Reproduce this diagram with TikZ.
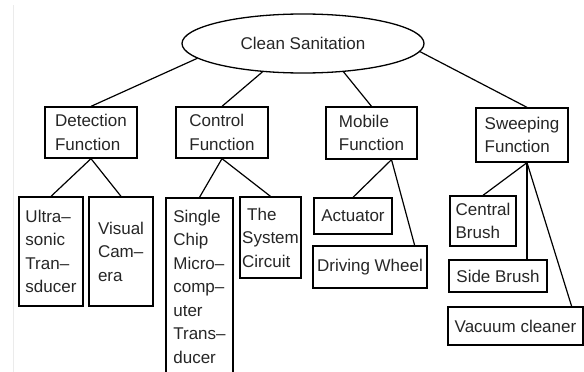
\documentclass[tikz,border=0pt]{standalone}
\usepackage{fontspec}
\setmainfont{Liberation Sans}
\usetikzlibrary{shapes.geometric}
\usetikzlibrary{calc}

\begin{document}
\begin{tikzpicture}[x=1pt, y=-1pt,
        box/.style={draw, rectangle, line width=1.3pt, align=left, inner sep=2pt,
            text=black!85, font=\fontsize{17}{23.5}\selectfont},
        link/.style={line width=1.2pt}]
            \clip (0,0) rectangle (584,372);
            \fill[white] (0,0) rectangle (584,372);
            
            % page edge
            \draw[black!8, line width=1pt] (13,5) -- (13,372);
            
            % Top
            \node[ellipse, draw, line width=1.3pt, minimum width=242, minimum height=59,
                inner sep=0pt, text=black!85, font=\fontsize{17}{23.5}\selectfont]
                (root) at (303,43.5) {Clean Sanitation};
            
            % Functions
            \node[box, minimum width=92, minimum height=51] (det) at (91,132.5) {Detection\\Function};
            \node[box, minimum width=92, minimum height=51] (ctl) at (222,132.5) {Control\\Function};
            \node[box, minimum width=91, minimum height=52] (mob) at (371.5,133) {Mobile\\Function};
            \node[box, minimum width=92, minimum height=54] (swp) at (522,135) {Sweeping\\Function};
            
            \draw[link] (root.188) -- (det.north);
            \draw[link] (root.215) -- (ctl.north);
            \draw[link] (root.325) -- (mob.north);
            \draw[link] (root.356) -- ([xshift=5]swp.north);
            
            % Detection parts
            \node[box, minimum width=64, minimum height=109] (ult) at (51,251.5) {Ultra--\\sonic\\Tran--\\sducer};
            \node[box, minimum width=64, minimum height=109] (vis) at (121,251.5) {Visual\\Cam--\\era};
            \draw[link] (det.south) -- (ult.north);
            \draw[link] (det.south) -- (vis.north);
            
            % Control parts
            \node[box, minimum width=67, minimum height=177] (chip) at (199.5,286.5)
                {Single\\Chip\\Micro--\\comp--\\uter\\Trans--\\ducer};
            \node[box, minimum width=61, minimum height=81] (sys) at (270.5,237.5)
                {\hspace*{5pt}The\\System\\Circuit};
            \draw[link] (ctl.south) -- (chip.north);
            \draw[link] (ctl.south) -- (sys.north);
            
            % Mobile parts
            \node[box, minimum width=78, minimum height=36] (act) at (353,216) {Actuator};
            \node[box, minimum width=114, minimum height=42] (whl) at (370,267) {Driving Wheel};
            \coordinate (mobfoot) at ([xshift=20]mob.south);
            \draw[link] (mobfoot) -- (act.north);
            \draw[link] (mobfoot) -- ([xshift=-13]whl.north east);
            
            % Sweeping parts
            \node[box, minimum width=66, minimum height=50] (cen) at (483,221) {Central\\Brush};
            \node[box, minimum width=98, minimum height=32] (sid) at (498,276) {Side Brush};
            \node[box, minimum width=135, minimum height=38] (vac) at (515.5,326) {Vacuum cleaner};
            \coordinate (swpfoot) at ([xshift=5]swp.south);
            \draw[link] (swpfoot) -- (cen.north);
            \draw[link] (swpfoot) -- (swpfoot |- sid.north);
            \draw[link] (swpfoot) -- ([xshift=-12]vac.north east);
        \end{tikzpicture}
\end{document}
